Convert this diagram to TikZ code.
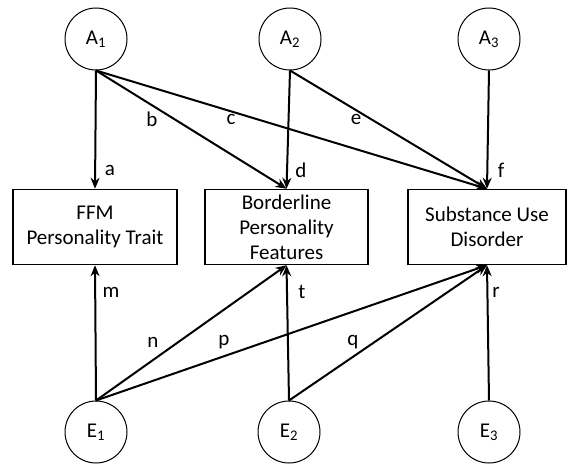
\documentclass[tikz,border=0pt]{standalone}
\usepackage{fontspec}
\setmainfont{Carlito}
\usetikzlibrary{arrows.meta}

\begin{document}
\begin{tikzpicture}[x=1pt, y=-1pt,
  latent/.style={draw, circle, minimum size=62pt, inner sep=0pt, line width=1pt,
    font=\fontsize{21}{25}\selectfont},
  measured/.style={draw, line width=1.5pt, minimum height=75pt, inner sep=0pt,
    align=center, font=\fontsize{21}{25}\selectfont},
  effect/.style={-{Stealth[length=11pt,width=9pt]}, line width=2pt},
  coef/.style={font=\fontsize{21}{25}\selectfont}]

\useasboundingbox (0,0) rectangle (567,463);

% genetic factors on top
\path
(96,39) node [latent] (A1) {A\textsubscript{1}}
(290,39) node [latent] (A2) {A\textsubscript{2}}
(489,39) node [latent] (A3) {A\textsubscript{3}};

% environmental factors at the bottom
\path
(96,432) node [latent] (E1) {E\textsubscript{1}}
(289,432) node [latent] (E2) {E\textsubscript{2}}
(489,432) node [latent] (E3) {E\textsubscript{3}};

% the three phenotypes
\path
(95,227) node [measured, minimum width=164pt] (ffm) {FFM\\Personality Trait}
(286.5,227) node [measured, minimum width=163pt] (bpf) {Borderline\\Personality\\Features}
(487,227) node [measured, minimum width=158pt] (sud) {Substance Use\\Disorder};

%% paths from A
\draw [effect] (A1.south) -- (ffm.north);
\draw [effect] (A1.south) -- (bpf.north);
\draw [effect] (A1.south) -- (sud.north);
\draw [effect] (A2.south) -- (bpf.north);
\draw [effect] (A2.south) -- (sud.north);
\draw [effect] (A3.south) -- (sud.north);

%% paths from E
\draw [effect] (E1.north) -- (ffm.south);
\draw [effect] (E1.north) -- (bpf.south);
\draw [effect] (E1.north) -- (sud.south);
\draw [effect] (E2.north) -- (bpf.south);
\draw [effect] (E2.north) -- (sud.south);
\draw [effect] (E3.north) -- (sud.south);

% path coefficients
\path
(110,170) node [coef] (la) {a}
(152,119) node [coef] (lb) {b}
(231,119) node [coef] (lc) {c}
(301,170) node [coef] (ld) {d}
(356,119) node [coef] (le) {e}
(501,170) node [coef] (lf) {f}
(111,292) node [coef] (lm) {m}
(153,342) node [coef] (ln) {n}
(224,342) node [coef] (lp) {p}
(302,292) node [coef] (lt) {t}
(353,342) node [coef] (lq) {q}
(496,292) node [coef] (lr) {r};

\end{tikzpicture}
\end{document}
